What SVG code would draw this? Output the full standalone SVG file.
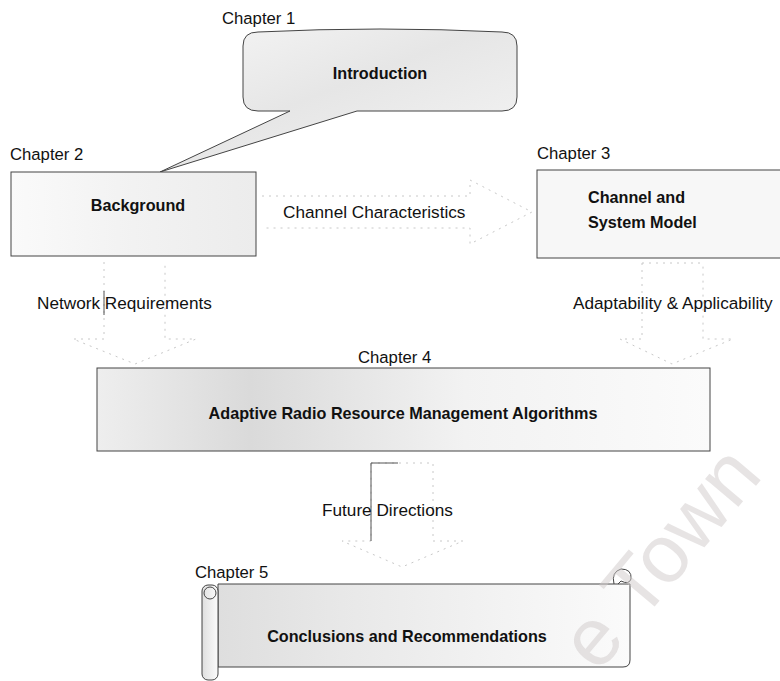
<svg xmlns="http://www.w3.org/2000/svg" width="780" height="681" viewBox="0 0 780 681">
<defs>
<style>
.lbl{font-family:"Liberation Sans",Arial,sans-serif;font-size:16.7px;fill:#111}
.clbl{font-family:"Liberation Sans",Arial,sans-serif;font-size:17.2px;fill:#111}
.ttl{font-family:"Liberation Sans",Arial,sans-serif;font-size:16.2px;font-weight:bold;fill:#111}
.box{stroke:#444;stroke-width:1}
.arr{fill:none;stroke:#c8c8c8;stroke-width:1;stroke-dasharray:2 5}
.solid{stroke:#555;stroke-width:1;fill:none}
.wm{font-family:"Liberation Sans",Arial,sans-serif;font-size:82px;fill:#cfc9c9;fill-opacity:0.5}
</style>
<linearGradient id="g4" x1="0" y1="0" x2="1" y2="0">
<stop offset="0" stop-color="#eeeeee"/>
<stop offset="0.25" stop-color="#dadada"/>
<stop offset="0.6" stop-color="#f2f2f2"/>
<stop offset="1" stop-color="#fbfbfb"/>
</linearGradient>
<linearGradient id="g1" x1="0" y1="0" x2="1" y2="1">
<stop offset="0" stop-color="#f6f6f6"/>
<stop offset="0.45" stop-color="#e6e6e6"/>
<stop offset="1" stop-color="#f5f5f5"/>
</linearGradient>
<linearGradient id="g2" x1="0" y1="0" x2="1" y2="0">
<stop offset="0" stop-color="#fafafa"/>
<stop offset="0.5" stop-color="#f2f2f2"/>
<stop offset="1" stop-color="#ececec"/>
</linearGradient>
<linearGradient id="g5" x1="0" y1="0" x2="1" y2="0">
<stop offset="0" stop-color="#dedede"/>
<stop offset="0.3" stop-color="#e8e8e8"/>
<stop offset="0.7" stop-color="#f3f3f3"/>
<stop offset="1" stop-color="#fbfbfb"/>
</linearGradient>
</defs>
<rect width="780" height="681" fill="#ffffff"/>

<g id="connectors">
<path class="arr" d="M262,196 L470,196 L470,180 L532,212 L470,244 L470,228 L262,228"/>
<path class="arr" d="M104,262 L104,339 L73,339 L135,364 L196,339 L165,339 L165,262"/>
<line class="solid" x1="104" y1="291" x2="104" y2="315"/>
<path class="arr" d="M642,263 L703,263 M642,263 L642,339 L620,339 L672,364 L733,339 L703,339 L703,263"/>
<path class="arr" d="M371,463 L433,463 L433,541 L463,541 L402,567 L342,541 L371,541 Z"/>
<line class="solid" x1="371" y1="463" x2="371" y2="541"/>
<line class="solid" x1="371" y1="463" x2="398" y2="463"/>
<text class="clbl" x="283" y="218">Channel Characteristics</text>
<text class="clbl" x="37" y="309">Network Requirements</text>
<text class="clbl" x="573" y="309">Adaptability &amp; Applicability</text>
<text class="clbl" x="322" y="516">Future Directions</text>
</g>

<g id="ch1">
<text class="lbl" x="222" y="24">Chapter 1</text>
<path class="box" fill="url(#g1)" d="M258,32 Q380,26 502,32 Q517,32 517,46 L517,97 Q517,111 502,111 L357,111 L160,172 L290,111 L258,111 Q243,111 243,97 L243,46 Q243,32 258,32 Z"/>
<text class="ttl" x="380" y="79" text-anchor="middle">Introduction</text>
</g>

<g id="ch2">
<text class="lbl" x="10" y="160">Chapter 2</text>
<rect class="box" x="11" y="172" width="245" height="84" fill="url(#g2)"/>
<text class="ttl" x="138" y="211" text-anchor="middle">Background</text>
</g>

<g id="ch3">
<text class="lbl" x="537" y="159">Chapter 3</text>
<rect class="box" x="537" y="170" width="250" height="88" fill="#f7f7f7"/>
<text class="ttl" x="588" y="203">Channel and</text>
<text class="ttl" x="588" y="228">System Model</text>
</g>

<g id="ch4">
<text class="lbl" x="358" y="363">Chapter 4</text>
<rect class="box" x="97" y="368" width="613" height="83" fill="url(#g4)"/>
<text class="ttl" x="403" y="419" text-anchor="middle">Adaptive Radio Resource Management Algorithms</text>
</g>

<g id="ch5">
<text class="lbl" x="195" y="578">Chapter 5</text>
<path class="box" fill="url(#g5)" d="M218,584 L630,584 L630,660 Q630,667 623,667 L218,667 Z"/>
<path class="box" fill="none" d="M614,584 Q611,572 621,569 Q632,569 631,579 Q629,585 621,581 L618,584"/>
<rect class="box" x="202" y="585" width="16" height="95" rx="6" fill="url(#g5)"/>
<circle class="box" cx="210" cy="593" r="6" fill="none"/>
<text class="ttl" x="407" y="642" text-anchor="middle">Conclusions and Recommendations</text>
</g>

<text class="wm" transform="translate(598,674) rotate(-50)">e Town</text>
</svg>
